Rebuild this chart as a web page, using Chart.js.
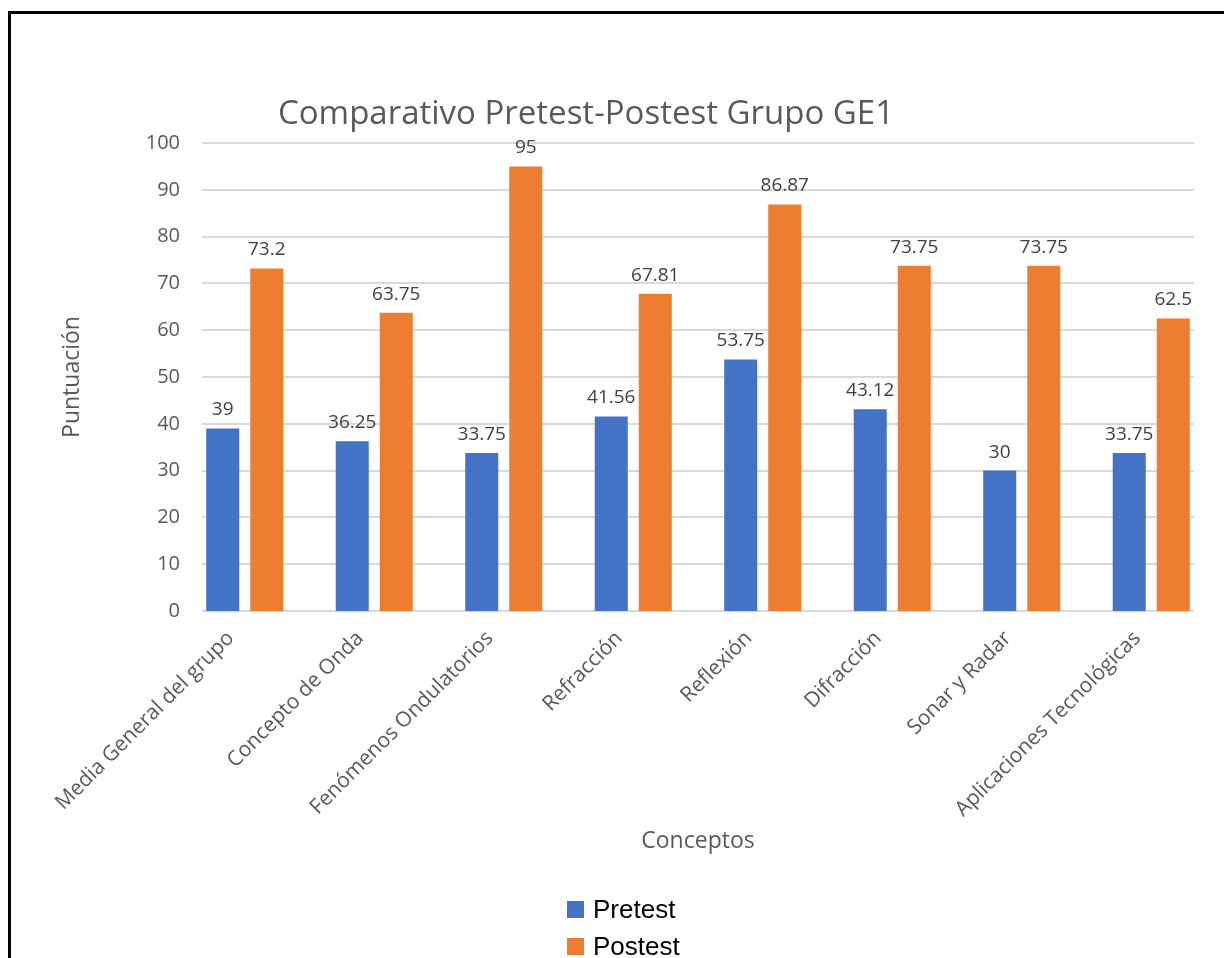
<!DOCTYPE html>
<html>
<head>
<meta charset="utf-8">
<script src="https://cdn.jsdelivr.net/npm/chart.js@4.4.0/dist/chart.umd.min.js"></script>
<style>
  html, body { margin: 0; padding: 0; background: #fff; }
  body { width: 1224px; height: 958px; position: relative; overflow: hidden; }
  #frame { position: absolute; left: 8px; top: 11px; width: 1400px; height: 1100px;
           border-left: 3px solid #000; border-top: 3px solid #000; }
  #chart { position: absolute; left: 0; top: 0; }
  #legend { position: absolute; left: 567px; top: 891px;
            font-family: 'Liberation Sans', Arial, sans-serif; font-size: 26px; color: #000; }
  .legend-item { display: flex; align-items: center; height: 37px; }
  .legend-box { width: 17px; height: 17px; margin-right: 9px; }
</style>
</head>
<body>
<div id="frame"></div>
<canvas id="chart" width="1224" height="958"></canvas>
<div id="legend"></div>
<script>
const chartTitle = 'Comparativo Pretest-Postest Grupo GE1';
const categories = [
  'Media General del grupo',
  'Concepto de Onda',
  'Fenómenos Ondulatorios',
  'Refracción',
  'Reflexión',
  'Difracción',
  'Sonar y Radar',
  'Aplicaciones Tecnológicas'
];
const pretest = [39, 36.25, 33.75, 41.56, 53.75, 43.12, 30, 33.75];
const postest = [73.2, 63.75, 95, 67.81, 86.87, 73.75, 73.75, 62.5];
const yMin = 0;
const yMax = 100;
const yStep = 10;

const FONT = "'Open Sans', 'Noto Sans', sans-serif";
const GREY = '#595959';

// horizontal grid lines, a bit shorter than the plot area on both sides
const insetGrid = {
  id: 'insetGrid',
  beforeDatasetsDraw(chart, args, opts) {
    const { ctx, chartArea, scales } = chart;
    const y = scales.y;
    ctx.save();
    ctx.strokeStyle = opts.color;
    ctx.lineWidth = opts.lineWidth;
    y.ticks.forEach(t => {
      const py = Math.round(y.getPixelForValue(t.value));
      ctx.beginPath();
      ctx.moveTo(chartArea.left + opts.inset, py);
      ctx.lineTo(chartArea.right - opts.inset, py);
      ctx.stroke();
    });
    ctx.restore();
  }
};

// value written above each bar
const barValues = {
  id: 'barValues',
  afterDatasetsDraw(chart, args, opts) {
    const { ctx } = chart;
    ctx.save();
    ctx.font = opts.font;
    ctx.fillStyle = opts.color;
    ctx.textAlign = 'center';
    ctx.textBaseline = 'bottom';
    chart.data.datasets.forEach((ds, i) => {
      chart.getDatasetMeta(i).data.forEach((bar, j) => {
        ctx.fillText(String(ds.data[j]), bar.x, bar.y - opts.offset);
      });
    });
    ctx.restore();
  }
};

// chart heading
const heading = {
  id: 'heading',
  afterDraw(chart, args, opts) {
    const { ctx, chartArea } = chart;
    ctx.save();
    ctx.font = opts.font;
    ctx.fillStyle = opts.color;
    ctx.textAlign = 'center';
    ctx.textBaseline = 'middle';
    ctx.fillText(opts.text, chartArea.left + opts.dx, chartArea.top + opts.dy);
    ctx.restore();
  }
};

const ctx = document.getElementById('chart').getContext('2d');
const chart = new Chart(ctx, {
  type: 'bar',
  data: {
    labels: categories,
    datasets: [
      { label: 'Pretest', data: pretest, backgroundColor: '#4472C4' },
      { label: 'Postest', data: postest, backgroundColor: '#ED7D31' }
    ]
  },
  options: {
    responsive: false,
    animation: false,
    devicePixelRatio: 1,
    categoryPercentage: 0.68,
    barPercentage: 0.75,
    layout: { padding: { left: 56, right: 8, top: 143, bottom: 100 } },
    plugins: {
      legend: { display: false },
      title: { display: false },
      tooltip: { enabled: false },
      insetGrid: { color: '#d9d9d9', lineWidth: 2, inset: 22 },
      barValues: { font: `19px ${FONT}`, color: '#404040', offset: 9 },
      heading: { text: chartTitle, font: `33px ${FONT}`, color: GREY, dx: 406, dy: -28 }
    },
    scales: {
      x: {
        grid: { display: false, drawTicks: false },
        border: { display: false },
        ticks: {
          autoSkip: false,
          maxRotation: 45,
          minRotation: 45,
          padding: 15,
          labelOffset: -14,
          color: GREY,
          font: { family: FONT, size: 21 }
        },
        title: {
          display: true,
          text: 'Conceptos',
          color: GREY,
          font: { family: FONT, size: 23 },
          padding: { top: 4, bottom: 3 }
        },
        afterFit(scale) { scale.height = 247; }
      },
      y: {
        min: yMin,
        max: yMax,
        grid: { display: false, drawTicks: false },
        border: { display: false },
        ticks: {
          stepSize: yStep,
          padding: 0,
          color: GREY,
          font: { family: FONT, size: 20 }
        },
        title: {
          display: true,
          text: 'Puntuación',
          color: GREY,
          font: { family: FONT, size: 23 },
          padding: { top: 3, bottom: 4 }
        },
        afterFit(scale) { scale.width = 124; }
      }
    }
  },
  plugins: [insetGrid, barValues, heading]
});

// legend stacked one entry per line
const legend = document.getElementById('legend');
chart.data.datasets.forEach(ds => {
  const row = document.createElement('div');
  row.className = 'legend-item';
  row.innerHTML = `<span class="legend-box" style="background:${ds.backgroundColor}"></span>${ds.label}`;
  legend.appendChild(row);
});
</script>
</body>
</html>
